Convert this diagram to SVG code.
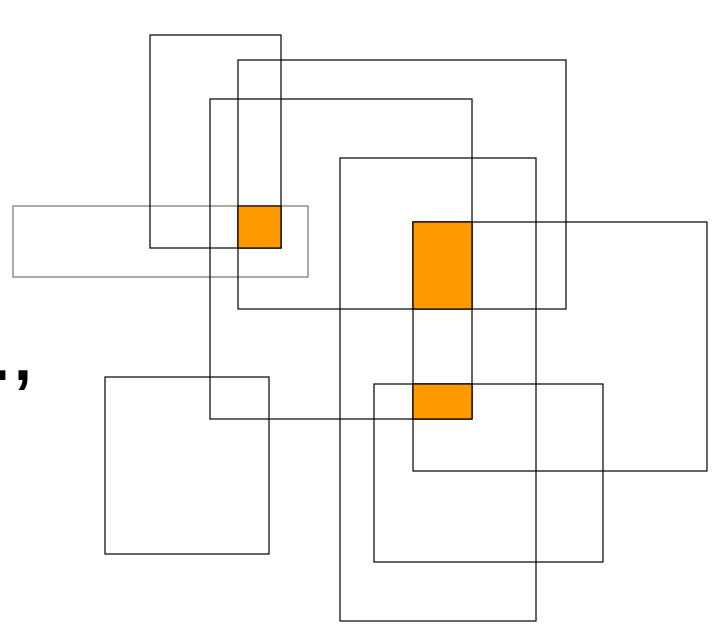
<svg xmlns="http://www.w3.org/2000/svg" width="718" height="632" viewBox="0 0 718 632">
<style>
.r{fill:none;stroke:#000;stroke-width:1.2}
.g{fill:none;stroke:#000;stroke-opacity:0.55;stroke-width:1.2}
.o{fill:#ff9900;stroke:#000;stroke-width:1.2}
.t{font-family:"Liberation Sans",Arial,sans-serif;font-weight:bold;font-size:64px;fill:#000}
</style>
<rect width="718" height="632" fill="#fff"/>
<g id="text1"><text class="t" x="-8 14" y="380">.,</text></g>
<g id="rect8"><rect class="g" x="13" y="206" width="295" height="71"/></g>
<g id="rect1"><rect class="r" x="150" y="35" width="131" height="213"/></g>
<g id="rect2"><rect class="r" x="238" y="60" width="328" height="249"/></g>
<g id="rect3"><rect class="r" x="210" y="99" width="262" height="320"/></g>
<g id="rect4"><rect class="r" x="340" y="158" width="196" height="463"/></g>
<g id="rect5"><rect class="r" x="413" y="222" width="294" height="249"/></g>
<g id="rect6"><rect class="r" x="374" y="384" width="229" height="178"/></g>
<g id="rect7"><rect class="r" x="105" y="377" width="164" height="177"/></g>
<g id="overlap1"><rect class="o" x="238" y="206" width="43" height="42"/></g>
<g id="overlap2"><rect class="o" x="413" y="222" width="59" height="87"/></g>
<g id="overlap3"><rect class="o" x="413" y="384" width="59" height="35"/></g>
</svg>
